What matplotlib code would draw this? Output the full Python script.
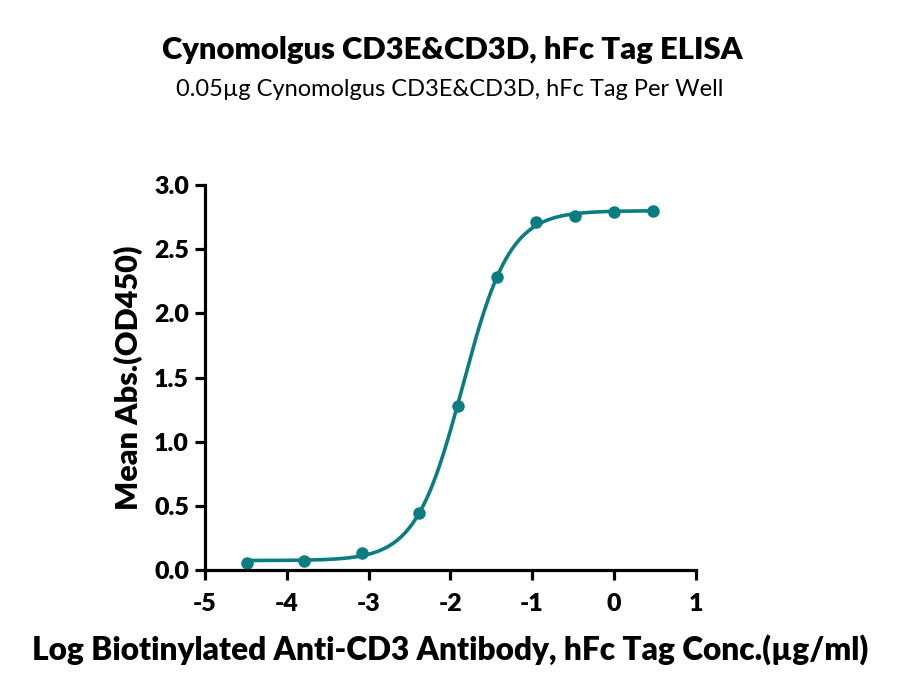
import numpy as np
import matplotlib
matplotlib.use("Agg")
import matplotlib.pyplot as plt

# Data
log_conc = [-4.483, -3.784, -3.085, -2.386, -1.909, -1.431, -0.954, -0.477, 0.0, 0.477]
od450 = [0.057, 0.070, 0.130, 0.447, 1.280, 2.280, 2.710, 2.755, 2.790, 2.800]
x_ticks = [-5, -4, -3, -2, -1, 0, 1]
y_ticks = [0.0, 0.5, 1.0, 1.5, 2.0, 2.5, 3.0]
title = "Cynomolgus CD3E&CD3D, hFc Tag ELISA"
subtitle = "0.05µg Cynomolgus CD3E&CD3D, hFc Tag Per Well"
xlabel = "Log Biotinylated Anti-CD3 Antibody, hFc Tag Conc.(µg/ml)"
ylabel = "Mean Abs.(OD450)"

color = "#0b7d80"
FONT = ["Lato", "DejaVu Sans"]
plt.rcParams['font.family'] = FONT

x = np.array(log_conc)
y = np.array(od450)

def model(p, xx):
    b, t, c, h = p
    return b + (t - b) / (1 + 10 ** ((c - xx) * h))

# simple Levenberg-Marquardt 4PL fit
p = np.array([0.06, 2.8, -1.85, 1.5])
lam = 1e-3
for _ in range(200):
    r = y - model(p, x)
    J = np.zeros((len(x), 4))
    for i in range(4):
        dp = np.zeros(4); dp[i] = 1e-6
        J[:, i] = (model(p + dp, x) - model(p - dp, x)) / 2e-6
    A = J.T @ J
    g = J.T @ r
    step = np.linalg.solve(A + lam * np.diag(np.diag(A)), g)
    pn = p + step
    if np.sum((y - model(pn, x)) ** 2) < np.sum(r ** 2):
        p = pn; lam *= 0.5
    else:
        lam *= 5

fig = plt.figure(figsize=(9, 6.98), dpi=100)
ax = fig.add_axes([205 / 900, 1 - 570 / 698, (695.5 - 205) / 900, (570 - 185) / 698])

xs = np.linspace(x.min(), x.max(), 400)
ax.plot(xs, model(p, xs), color=color, lw=2.6, solid_capstyle='round')
ax.plot(x, y, 'o', color=color, ms=9, mew=0)

ax.set_xlim(-5, 1)
ax.set_ylim(0, 3.0)
ax.set_xticks(x_ticks)
ax.set_xticklabels([str(v) for v in x_ticks])
ax.set_yticks(y_ticks)
ax.set_yticklabels([f"{v:.1f}" for v in y_ticks])
for s in ['top', 'right']:
    ax.spines[s].set_visible(False)
for s in ['left', 'bottom']:
    ax.spines[s].set_linewidth(2.3)
    ax.spines[s].set_color('black')
ax.tick_params(axis='both', width=2.3, length=7.5, direction='out', labelsize=18, pad=4)
for lab in ax.get_xticklabels() + ax.get_yticklabels():
    lab.set_fontweight('heavy')
ax.tick_params(axis='x', pad=9)
for ln in ax.lines:
    ln.set_clip_on(False)

ax.set_xlabel(xlabel, fontsize=22.8, fontweight='heavy', labelpad=14)
ax.set_ylabel(ylabel, fontsize=22, fontweight='heavy', labelpad=8)

fig.text(452 / 900, 1 - 50 / 698, title, ha='center', va='center', fontsize=22.3, fontweight='heavy')
fig.text(450 / 900, 1 - 89 / 698, subtitle, ha='center', va='center', fontsize=17)

fig.savefig("out.png", dpi=100)
